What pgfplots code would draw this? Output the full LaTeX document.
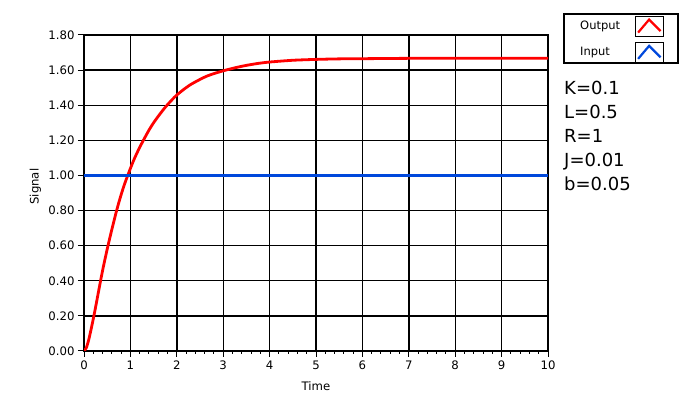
\documentclass[border=0pt]{standalone}
\usepackage{pgfplots}
\pgfplotsset{compat=1.18}
\usepackage{pgfplotstable}
\usepackage{fontspec}
\setmainfont{DejaVu Sans}
\definecolor{outred}{RGB}{255,0,0}
\definecolor{inblue}{RGB}{0,72,220}
\pgfplotstableread{
t y
0 0
0.05 0.018
0.1 0.062
0.15 0.12
0.2 0.183
0.25 0.25
0.3 0.32
0.35 0.39
0.4 0.458
0.45 0.52
0.5 0.58
0.55 0.637
0.6 0.692
0.65 0.745
0.7 0.797
0.75 0.845
0.8 0.89
0.85 0.932
0.9 0.97
0.95 1.005
1.0 1.04
1.05 1.073
1.1 1.104
1.2 1.16
1.3 1.21
1.4 1.258
1.5 1.3
1.6 1.337
1.75 1.388
1.9 1.432
2.0 1.458
2.15 1.49
2.3 1.518
2.5 1.547
2.65 1.566
2.8 1.58
3.0 1.596
3.25 1.613
3.5 1.627
3.75 1.638
4.0 1.646
4.5 1.656
5.0 1.661
5.5 1.664
6.0 1.665
7.0 1.667
8.0 1.667
10.0 1.667
}\outdata
\pgfplotstableread{
t y
0 1
10 1
}\indata
\begin{document}
\begin{tikzpicture}
\path[use as bounding box] (0,0) rectangle (697pt,398pt);
\begin{axis}[
  scale only axis, width=464pt, height=316pt,
  at={(84pt,47pt)}, anchor=south west,
  xmin=0, xmax=10, ymin=0, ymax=1.8,
  xtick={0,1,2,3,4,5,6,7,8,9,10},
  ytick={0,0.2,0.4,0.6,0.8,1.0,1.2,1.4,1.6,1.8},
  minor x tick num=4,
  tick pos=left, tick align=outside,
  major tick length=6pt, minor tick length=3pt,
  tick style={black, line width=1pt},
  grid=major, major grid style={black, line width=1.4pt},
  axis line style={black, line width=1.4pt},
  /pgf/number format/assume math mode=true,
  ticklabel style={font=\fontsize{11.7}{13}\selectfont, text=black},
  yticklabel={\pgfmathprintnumber[fixed,fixed zerofill,precision=2]{\tick}},
  xlabel={Time}, ylabel={Signal},
  xlabel style={at={(axis description cs:0.5,-0.125)}, anchor=base, font=\fontsize{11.7}{13}\selectfont},
  ylabel style={at={(axis description cs:-0.105,0.52)}, anchor=center, font=\fontsize{11.7}{13}\selectfont},
  legend plot pos=right,
  legend image code/.code={%
    \draw[black, line width=0.8pt, fill=white] (0pt,-10pt) rectangle (28pt,10pt);
    \draw[#1, line width=2.2pt, line join=miter] (2.5pt,-6.5pt) -- (13.5pt,6.5pt) -- (25pt,-5pt);
  },
  legend style={at={(axis description cs:1.0345,1.0665)}, anchor=north west,
    draw=none, fill=none, inner xsep=0pt, inner ysep=1.5pt, row sep=5.5pt,
    font=\fontsize{11.5}{13}\selectfont, nodes={inner sep=0pt}},
]
\addplot[outred, line width=2.8pt, smooth, tension=0.4] table[x=t, y=y] {\outdata};
\addlegendentry{\hspace*{16pt}\makebox[55pt][l]{Output}}
\addplot[inblue, line width=2.8pt] table[x=t, y=y] {\indata};
\addlegendentry{\hspace*{16pt}\makebox[55pt][l]{Input}}
\end{axis}
\draw[black, line width=1.4pt] (564pt,335pt) rectangle (678pt,384pt);
\begin{scope}[every node/.style={anchor=base west, inner sep=0pt, font=\fontsize{18}{22}\selectfont}]
\node at (564pt,303.7pt) {K=0.1};
\node at (564pt,279.7pt) {L=0.5};
\node at (564pt,255.7pt) {R=1};
\node at (564pt,231.7pt) {J=0.01};
\node at (564pt,207.7pt) {b=0.05};
\end{scope}
\end{tikzpicture}
\end{document}
